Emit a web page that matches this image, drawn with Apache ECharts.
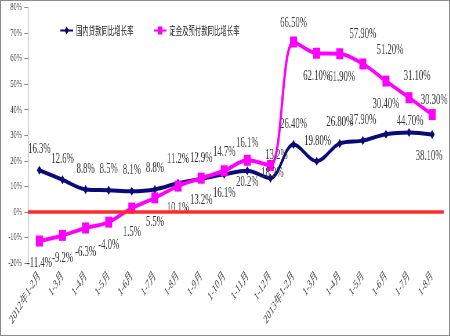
<!DOCTYPE html>
<html>
<head>
<meta charset="utf-8">
<script src="https://cdn.jsdelivr.net/npm/echarts@6/dist/echarts.min.js"></script>
<style>
html,body{margin:0;padding:0;background:#fff;overflow:hidden;width:450px;height:336px;}
#chart{position:absolute;left:0;top:0;width:776px;height:336px;transform:scaleX(0.58);transform-origin:0 0;}
#frame{position:absolute;left:0;top:0;width:448px;height:334px;border:1px solid #8c8c8c;pointer-events:none;}
</style>
</head>
<body>
<div id="chart"></div>
<div id="frame"></div>
<script>
// ---- data ----
const categories = ['2012年1-2月','1-3月','1-4月','1-5月','1-6月','1-7月','1-8月','1-9月','1-10月','1-11月','1-12月',
                    '2013年1-2月','1-3月','1-4月','1-5月','1-6月','1-7月','1-8月'];
const loanName = '国内贷款同比增长率';
const depositName = '定金及预付款同比增长率';
const loanValues = [16.3,12.6,8.8,8.5,8.1,8.8,11.2,12.9,14.7,16.1,13.2,26.4,19.8,26.8,27.9,30.4,31.1,30.3];
const depositValues = [-11.4,-9.2,-6.3,-4.0,1.5,5.5,10.1,13.2,16.1,20.2,18.2,66.5,62.1,61.9,57.9,51.2,44.7,38.1];
// label texts as printed on the chart
const loanLabels = ['16.3%','12.6%','8.8%','8.5%','8.1%','8.8%','11.2%','12.9%','14.7%','16.1%','13.2%',
                    '26.40%','19.80%','26.80%','27.90%','30.40%','44.70%','38.10%'];
const depositLabels = ['-11.4%','-9.2%','-6.3%','-4.0%','1.5%','5.5%','10.1%','13.2%','16.1%','20.2%','18.2%',
                       '66.50%','62.10%','61.90%','57.90%','51.20%','31.10%','30.30%'];
const yTicks = {min:-20, max:80, interval:10};

// ---- label placement (style) ----
const S = 0.58; // horizontal squash of the picture
const loanLabelDy = [-21,-21,-20,-21,-21,-21,-24,-21,-22,-28,-23,-20,-20,-21,-21,-30,-11,22];
const loanLabelDx = [0,0,0,0,0,0,0,0,0,0,6,0,1,0,0,0,1,-3];
const depLabelDy = [22,23,24,23,24,24,22,22,22,22,8,-19,23,23,-30,-31,-22,-14];
const depLabelDx = [0,0,0,0,0,0,0,0,0,0,2,0,0,2,0,4,8,2];

const labelFont = {fontFamily:'Liberation Serif, DejaVu Serif, serif', fontSize:15, color:'#333'};

function buildData(values, dx, dy){
  return values.map((v,i)=>({value:v, label:{offset:[dx[i]/S, dy[i]]}}));
}

const chart = echarts.init(document.getElementById('chart'), null, {renderer:'canvas'});
chart.setOption({
  animation:false,
  backgroundColor:'#ffffff',
  legend:{
    left:98, top:20, itemGap:34, itemWidth:22, itemHeight:10,
    textStyle:{fontFamily:'Noto Sans CJK SC', fontSize:11, color:'#222'},
    data:[loanName, depositName]
  },
  grid:{left:48, right:11, top:7.5, bottom:73, containLabel:false},
  xAxis:{
    type:'category', data:categories, boundaryGap:true,
    axisLine:{show:false}, axisTick:{show:false}, splitLine:{show:false},
    axisLabel:{interval:0, rotate:45, margin:10, fontFamily:'Liberation Serif, DejaVu Serif, serif', fontSize:13, color:'#4a4a4a'}
  },
  yAxis:{
    type:'value', min:yTicks.min, max:yTicks.max, interval:yTicks.interval,
    axisLine:{show:true, lineStyle:{color:'#8c8c8c', width:1}},
    axisTick:{show:true, length:6, lineStyle:{color:'#8c8c8c'}},
    splitLine:{show:false},
    axisLabel:{formatter:'{value}%', margin:10, fontFamily:'Liberation Serif, DejaVu Serif, serif', fontSize:11, color:'#333'}
  },
  series:[
    {
      name:loanName, type:'line', smooth:0.35,
      data:buildData(loanValues, loanLabelDx, loanLabelDy),
      symbol:'diamond', symbolSize:[9,9],
      lineStyle:{color:'#0a0a78', width:4},
      itemStyle:{color:'#0a0a78'},
      label:{show:true, position:'inside', formatter:p=>loanLabels[p.dataIndex], ...labelFont},
      markLine:{
        silent:true, symbol:'none', label:{show:false},
        lineStyle:{color:'#ff2a2a', width:3.5, type:'solid'},
        data:[{yAxis:0}]
      }
    },
    {
      name:depositName, type:'line', smooth:0.35,
      data:buildData(depositValues, depLabelDx, depLabelDy),
      symbol:'rect', symbolSize:[12,11],
      lineStyle:{color:'#ff00ff', width:4},
      itemStyle:{color:'#ff00ff'},
      label:{show:true, position:'inside', formatter:p=>depositLabels[p.dataIndex], ...labelFont}
    }
  ]
});
</script>
</body>
</html>
